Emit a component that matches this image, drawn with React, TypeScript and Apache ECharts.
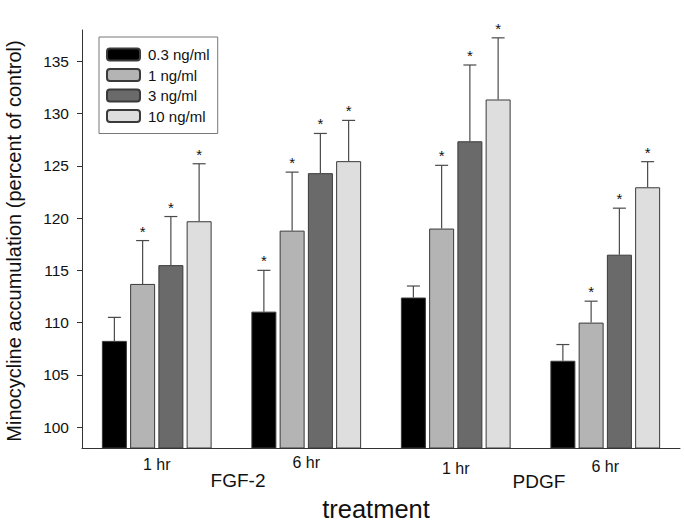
import React, { useEffect, useRef } from "react";
import * as echarts from "echarts";

const categories = ["1 hr", "6 hr", "1 hr", "6 hr"];
const seriesNames = ["0.3 ng/ml", "1 ng/ml", "3 ng/ml", "10 ng/ml"];

const mean03 = [108.25, 111.05, 112.4, 106.35];
const mean1 = [113.7, 118.8, 119.0, 110.0];
const mean3 = [115.5, 124.3, 127.35, 116.5];
const mean10 = [119.7, 125.45, 131.35, 122.95];

const err03 = [2.25, 3.95, 1.1, 1.55];
const err1 = [4.15, 5.6, 6.05, 2.05];
const err3 = [4.65, 3.8, 7.3, 4.45];
const err10 = [5.5, 3.9, 5.9, 2.45];

const star03 = [false, true, false, false];
const star1 = [true, true, true, true];
const star3 = [true, true, true, true];
const star10 = [true, true, true, true];

const yTicks = [100, 105, 110, 115, 120, 125, 130, 135];
const groupLabels = ["FGF-2", "PDGF"];

const colors = ["#000000", "#b4b4b4", "#6a6a6a", "#dedede"];
const means = [mean03, mean1, mean3, mean10];
const errs = [err03, err1, err3, err10];
const stars = [star03, star1, star3, star10];
const labelShift = [0, -2, 4, 2];

const BAR_W = 25;
const BAR_GAP = 0.13;
const FONT = "'Liberation Sans', Arial, sans-serif";

export default function App() {
  const ref = useRef<HTMLDivElement>(null);
  useEffect(() => {
    if (!ref.current) return;
    const chart = echarts.init(ref.current, null, { renderer: "svg" });
    const step = BAR_W * (1 + BAR_GAP);
    const total = 4 * BAR_W + 3 * BAR_W * BAR_GAP;
    const offsetOf = (i: number) => -total / 2 + BAR_W / 2 + i * step;

    const barSeries = seriesNames.map((name, i) => ({
      name,
      type: "bar",
      data: means[i],
      barWidth: BAR_W,
      barGap: BAR_GAP * 100 + "%",
      itemStyle: { color: colors[i], borderColor: "#3a3a3a", borderWidth: 1 },
      z: 2,
    }));

    const errSeries = seriesNames.map((name, i) => ({
      name: name + "-err",
      type: "custom",
      z: 3,
      data: means[i].map((m, k) => [k, m, errs[i][k], stars[i][k] ? 1 : 0]),
      renderItem: (params: any, api: any) => {
        const k = api.value(0);
        const m = api.value(1);
        const e = api.value(2);
        const s = api.value(3);
        const base = api.coord([k, m]);
        const top = api.coord([k, m + e]);
        const x = base[0] + offsetOf(i);
        const children: any[] = [
          {
            type: "line",
            shape: { x1: x, y1: base[1], x2: x, y2: top[1] },
            style: { stroke: "#4a4a4a", lineWidth: 1.2 },
          },
          {
            type: "line",
            shape: { x1: x - 6.5, y1: top[1], x2: x + 6.5, y2: top[1] },
            style: { stroke: "#4a4a4a", lineWidth: 1.2 },
          },
        ];
        if (s) {
          children.push({
            type: "text",
            style: {
              text: "*",
              x: x,
              y: top[1] - 9.5,
              align: "center",
              verticalAlign: "middle",
              fontSize: 15,
              fontFamily: FONT,
              fill: "#111",
            },
          });
        }
        return { type: "group", children };
      },
    }));

    chart.setOption({
      animation: false,
      grid: { left: 82, right: 4, top: 30, bottom: 76, containLabel: false },
      legend: {
        data: seriesNames,
        orient: "vertical",
        left: 99,
        top: 37,
        itemWidth: 33,
        itemHeight: 12,
        itemGap: 5.5,
        padding: [10, 8, 10, 7],
        borderColor: "#777",
        borderWidth: 1,
        textStyle: { fontSize: 15, fontFamily: FONT, color: "#111", padding: [0, 0, 0, 3] },
      },
      xAxis: {
        type: "category",
        data: categories.map((c, k) => ({
          value: c,
          textStyle: { padding: [Math.max(0, labelShift[k] + 2), 0, 0, 0] },
        })),
        axisLine: { lineStyle: { color: "#333", width: 1 } },
        axisTick: { alignWithLabel: true, length: 5, lineStyle: { color: "#333" } },
        axisLabel: {
          margin: 6,
          fontSize: 16,
          fontFamily: FONT,
          color: "#111",
        },
      },
      yAxis: {
        type: "value",
        min: 98,
        max: 138,
        splitLine: { show: false },
        axisLine: { show: true, lineStyle: { color: "#333", width: 1 } },
        axisTick: { show: true, length: 5, lineStyle: { color: "#333" }, customValues: yTicks },
        axisLabel: {
          fontSize: 15.5,
          fontFamily: FONT,
          color: "#111",
          margin: 13,
          customValues: yTicks,
        },
      },
      graphic: [
        {
          type: "text",
          x: 14,
          y: 241,
          rotation: Math.PI / 2,
          style: {
            text: "Minocycline accumulation (percent of control)",
            fontSize: 20,
            fontFamily: FONT,
            fill: "#111",
            align: "center",
            verticalAlign: "middle",
          },
        },
        {
          type: "text",
          x: 238,
          y: 480,
          style: {
            text: groupLabels[0],
            fontSize: 19,
            fontFamily: FONT,
            fill: "#111",
            align: "center",
            verticalAlign: "middle",
          },
        },
        {
          type: "text",
          x: 539,
          y: 481,
          style: {
            text: groupLabels[1],
            fontSize: 19,
            fontFamily: FONT,
            fill: "#111",
            align: "center",
            verticalAlign: "middle",
          },
        },
        {
          type: "text",
          x: 376,
          y: 509,
          style: {
            text: "treatment",
            fontSize: 25.5,
            fontFamily: FONT,
            fill: "#111",
            align: "center",
            verticalAlign: "middle",
          },
        },
      ],
      series: [...barSeries, ...errSeries],
    });
    return () => chart.dispose();
  }, []);
  return (
    <div
      ref={ref}
      style={{ position: "absolute", left: 0, top: 0, width: 684, height: 524 }}
    />
  );
}
